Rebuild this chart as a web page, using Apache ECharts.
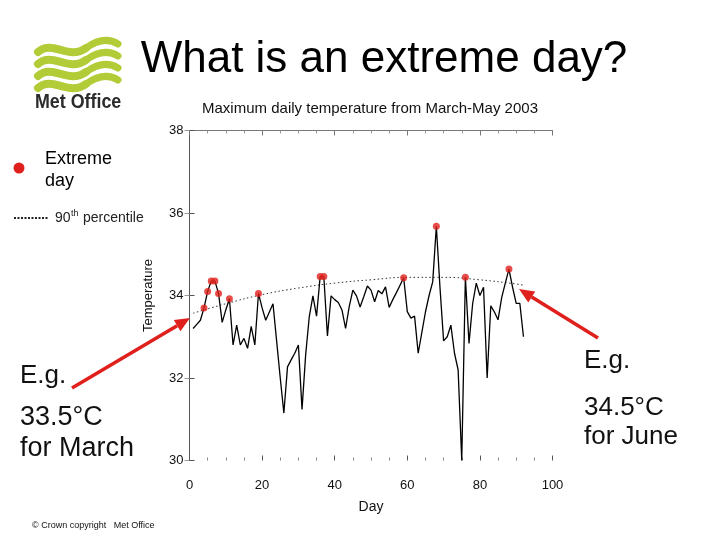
<!DOCTYPE html>
<html>
<head>
<meta charset="utf-8">
<script src="https://cdn.jsdelivr.net/npm/echarts@6/dist/echarts.min.js"></script>
<style>html,body{margin:0;padding:0;background:#fff;}#main{width:720px;height:540px;}</style>
</head>
<body>
<div id="main"></div>
<script>
// ---- data ----
const days = [];
for (let d = 1; d <= 92; d++) days.push(d); // March 1 .. May 31 (day index)
const maxTemp = [
  33.2, 33.3, 33.4, 33.7, 34.1, 34.35, 34.35, 34.05, 33.35, 33.65,
  33.92, 32.8, 33.28, 32.8, 32.96, 32.72, 33.25, 32.8, 34.05, 33.7,
  33.4, 33.6, 33.8, 32.9, 32.0, 31.15, 32.27, 32.44, 32.6, 32.8,
  31.24, 32.56, 33.49, 33.99, 33.5, 34.46, 34.46, 33.02, 33.99, 33.9,
  33.83, 33.65, 33.2, 33.73, 34.13, 33.99, 33.72, 33.97, 34.23, 34.13,
  33.85, 34.12, 34.04, 34.21, 33.71, 33.9, 34.07, 34.25, 34.43, 33.61,
  33.45, 33.5, 32.6, 33.1, 33.6, 34.0, 34.33, 35.68, 34.2, 32.9,
  33.0, 33.28, 32.6, 32.2, 30.0, 34.44, 32.84, 33.8, 34.3, 34.0,
  34.2, 32.0, 33.75, 33.6, 33.41, 33.95, 34.3, 34.64, 34.2, 33.81,
  33.81, 33.0
];
const extremeDays = [4, 5, 6, 7, 8, 11, 19, 36, 37, 59, 68, 76, 88];
const pctDays = [1, 10, 20, 30, 40, 50, 60, 70, 80, 90, 92];
const pctValues = [33.57, 33.8, 34.02, 34.18, 34.3, 34.38, 34.44, 34.44, 34.38, 34.28, 34.25];
const xTicks = [0, 20, 40, 60, 80, 100];
const yTicks = [30, 32, 34, 36, 38];

const lineData = days.map((d, i) => [d, maxTemp[i]]);
const extremeData = extremeDays.map(d => [d, maxTemp[d - 1]]);
const pctData = pctDays.map((d, i) => [d, pctValues[i]]);

const chart = echarts.init(document.getElementById('main'), null, {renderer: 'canvas'});
const FONT = '"Liberation Sans", Arial, Helvetica, sans-serif';
const GREEN = '#b1cc36';
const RED = '#e0201c';

function arrow(tail, tip, color) {
  const dx = tip[0] - tail[0], dy = tip[1] - tail[1];
  const len = Math.sqrt(dx * dx + dy * dy);
  const ux = dx / len, uy = dy / len;
  const hl = 15, hw = 6.5;
  const bx = tip[0] - hl * ux, by = tip[1] - hl * uy;
  const px = -uy, py = ux;
  return [
    {type: 'line', shape: {x1: tail[0], y1: tail[1], x2: bx, y2: by},
     style: {stroke: color, lineWidth: 3.5}, z: 10},
    {type: 'polygon', shape: {points: [tip, [bx + hw * px, by + hw * py], [bx - hw * px, by - hw * py]]},
     style: {fill: color}, z: 10}
  ];
}

const waves = [];
for (let k = 0; k < 4; k++) {
  const o = k * 12;
  waves.push({
    type: 'bezierCurve',
    shape: {x1: 38, y1: 52 + o, cpx1: 53, cpy1: 39 + o, cpx2: 68, cpy2: 61 + o, x2: 86, y2: 48 + o},
    style: {stroke: GREEN, fill: null, lineWidth: 8, lineCap: 'round'}, z: 5
  });
  waves.push({
    type: 'bezierCurve',
    shape: {x1: 86, y1: 48 + o, cpx1: 100, cpy1: 38 + o, cpx2: 110, cpy2: 39 + o, x2: 118, y2: 44 + o},
    style: {stroke: GREEN, fill: null, lineWidth: 7, lineCap: 'round'}, z: 5
  });
}

const option = {
  backgroundColor: '#ffffff',
  animation: false,
  grid: {left: 189.5, right: 167.5, top: 130.5, bottom: 79.5, containLabel: false},
  xAxis: [{
    type: 'value', min: 0, max: 100, interval: 20, position: 'bottom',
    axisLine: {show: false},
    axisTick: {show: true, inside: true, length: 5, lineStyle: {color: '#555'}},
    minorTick: {show: true, splitNumber: 4, length: 3, lineStyle: {color: '#888'}},
    splitLine: {show: false},
    axisLabel: {color: '#111', fontSize: 13, fontFamily: FONT, margin: 18},
    name: 'Day', nameLocation: 'middle', nameGap: 40,
    nameTextStyle: {color: '#111', fontSize: 14, fontFamily: FONT}
  }, {
    type: 'value', min: 0, max: 100, interval: 20, position: 'top',
    axisLine: {show: true, lineStyle: {color: '#777', width: 1}},
    axisTick: {show: true, inside: true, length: 5, lineStyle: {color: '#777'}},
    minorTick: {show: true, splitNumber: 4, length: 3, lineStyle: {color: '#999'}},
    axisLabel: {show: false}, splitLine: {show: false}
  }],
  yAxis: [{
    type: 'value', min: 30, max: 38, interval: 2,
    axisLine: {show: true, lineStyle: {color: '#555', width: 1}},
    axisTick: {show: true, inside: true, length: 5, lineStyle: {color: '#555'}},
    splitLine: {show: false},
    axisLabel: {color: '#111', fontSize: 13, fontFamily: FONT, margin: 6},
    name: 'Temperature', nameLocation: 'middle', nameGap: 35,
    nameTextStyle: {color: '#111', fontSize: 13, fontFamily: FONT}
  }, {
    type: 'value', min: 30, max: 38, interval: 2, position: 'right',
    axisLine: {show: false},
    axisTick: {show: true, inside: true, length: 5, lineStyle: {color: '#999'}},
    axisLabel: {show: false}, splitLine: {show: false}
  }],
  series: [
    {
      name: '90th percentile', type: 'line', data: pctData, smooth: true,
      symbol: 'none', xAxisIndex: 0, yAxisIndex: 0,
      lineStyle: {color: '#333', width: 1, type: [1.5, 2.5]}, z: 2
    },
    {
      name: 'Max temperature', type: 'line', data: lineData, symbol: 'none',
      xAxisIndex: 0, yAxisIndex: 0, clip: false,
      lineStyle: {color: '#000', width: 1.3}, z: 3
    },
    {
      name: 'Extreme day', type: 'scatter', data: extremeData,
      xAxisIndex: 0, yAxisIndex: 0,
      symbol: 'circle', symbolSize: 7, itemStyle: {color: RED}, z: 4
    }
  ],
  graphic: [
    {type: 'text', x: 384, y: 38,
     style: {text: 'What is an extreme day?', font: '44px ' + FONT, fill: '#000', align: 'center'}, z: 10},
    ...waves,
    {type: 'text', x: 35, y: 92, scaleX: 0.85,
     style: {text: 'Met Office', font: 'bold 21px ' + FONT, fill: '#2b2b2b'}, z: 10},
    {type: 'text', x: 370, y: 101,
     style: {text: 'Maximum daily temperature from March-May 2003', font: '15px ' + FONT, fill: '#111', align: 'center'}, z: 10},
    {type: 'circle', shape: {cx: 19, cy: 168, r: 5.5}, style: {fill: RED}, z: 10},
    {type: 'text', x: 45, y: 148,
     style: {text: 'Extreme\nday', font: '18px ' + FONT, fill: '#000', lineHeight: 22}, z: 10},
    {type: 'line', shape: {x1: 14, y1: 218, x2: 48, y2: 218},
     style: {stroke: '#222', lineWidth: 2, lineDash: [2, 1.5]}, z: 10},
    {type: 'text', x: 55, y: 211, style: {text: '90', font: '14px ' + FONT, fill: '#222'}, z: 10},
    {type: 'text', x: 71, y: 209, style: {text: 'th', font: '9px ' + FONT, fill: '#222'}, z: 10},
    {type: 'text', x: 83, y: 211, style: {text: 'percentile', font: '14px ' + FONT, fill: '#222'}, z: 10},
    {type: 'text', x: 20, y: 363, style: {text: 'E.g.', font: '26px ' + FONT, fill: '#111'}, z: 10},
    {type: 'text', x: 20, y: 402, style: {text: '33.5°C\nfor March', font: '27px ' + FONT, fill: '#111', lineHeight: 31}, z: 10},
    {type: 'text', x: 584, y: 348, style: {text: 'E.g.', font: '26px ' + FONT, fill: '#111'}, z: 10},
    {type: 'text', x: 584, y: 393, style: {text: '34.5°C\nfor June', font: '26px ' + FONT, fill: '#111', lineHeight: 29}, z: 10},
    ...arrow([72, 388], [190, 318], RED),
    ...arrow([598, 338], [519, 289], RED),
    {type: 'text', x: 32, y: 521, style: {text: '© Crown copyright   Met Office', font: '9px ' + FONT, fill: '#111'}, z: 10}
  ]
};
chart.setOption(option);
</script>
</body>
</html>
